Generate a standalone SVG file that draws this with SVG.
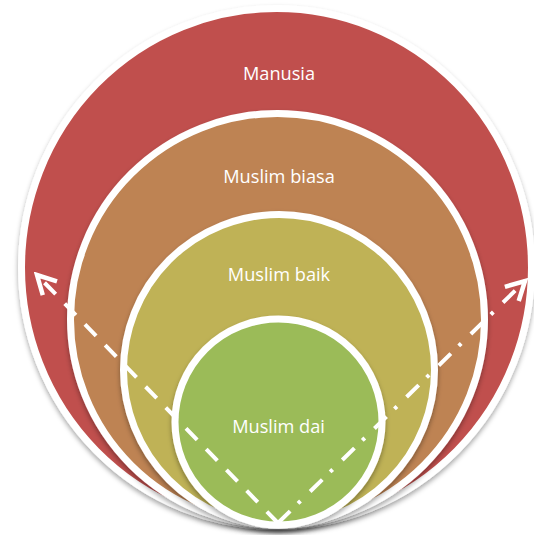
<svg xmlns="http://www.w3.org/2000/svg" width="534" height="535" viewBox="0 0 534 535">
  <defs>
    <filter id="sh" x="-10%" y="-10%" width="120%" height="125%">
      <feDropShadow dx="0" dy="3" stdDeviation="2.5" flood-color="#000" flood-opacity="0.35"/>
    </filter>
    <marker id="arr" viewBox="-24 -14 28 28" refX="0" refY="0" markerWidth="28" markerHeight="28" markerUnits="userSpaceOnUse" orient="auto">
      <path d="M-18.5,-9.9 L0,0 L-18.5,9.9" fill="none" stroke="#FFFFFF" stroke-width="4.5" stroke-linejoin="miter"/>
    </marker>
  </defs>
  <style>
    .ring { stroke: #FFFFFF; stroke-width: 7; filter: url(#sh); }
    .lbl { font-family: "Open Sans", "Noto Sans", "DejaVu Sans", sans-serif; font-size: 18.2px; fill: #FFFFFF; text-anchor: middle; }
    .conn { fill: none; stroke: #FFFFFF; stroke-width: 4; stroke-linecap: butt; }
  </style>
  <rect width="534" height="535" fill="#FFFFFF"/>
  <g id="manusia">
    <ellipse class="ring" cx="276.5" cy="267.5" rx="255" ry="259" fill="#C0504D"/>
    <text class="lbl" x="279" y="80">Manusia</text>
  </g>
  <g id="muslim-biasa">
    <ellipse class="ring" cx="277.5" cy="319.5" rx="207" ry="206" fill="#BE8352"/>
    <text class="lbl" x="279" y="183">Muslim biasa</text>
  </g>
  <g id="muslim-baik">
    <ellipse class="ring" cx="279" cy="370" rx="155.5" ry="155.5" fill="#BFB257"/>
    <text class="lbl" x="279" y="280.5">Muslim baik</text>
  </g>
  <g id="muslim-dai">
    <ellipse class="ring" cx="278.5" cy="422" rx="103.5" ry="103" fill="#9BBB59"/>
    <text class="lbl" x="278.5" y="433">Muslim dai</text>
  </g>
  <g id="connectors">
    <path class="conn" d="M278,523 L37,275" stroke-dasharray="16 13" marker-end="url(#arr)"/>
    <path class="conn" d="M278,523 L525,281" stroke-dasharray="17 11 3.5 13.5" marker-end="url(#arr)"/>
  </g>
</svg>
